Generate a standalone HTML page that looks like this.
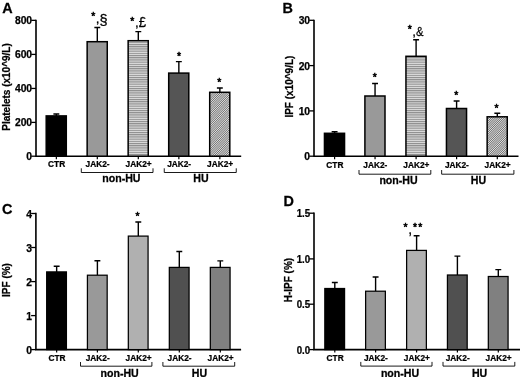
<!DOCTYPE html>
<html><head><meta charset="utf-8"><title>Figure</title>
<style>
html,body{margin:0;padding:0;background:#fff;}
body{width:520px;height:377px;overflow:hidden;}
svg{display:block;filter:blur(0.4px);}
svg text{font-family:"Liberation Sans", Arial, Helvetica, sans-serif;fill:#000;stroke:#000;stroke-width:0.25px;}
</style></head><body>
<svg width="520" height="377" viewBox="0 0 520 377">
<defs>
<pattern id="hl" width="4" height="2.2" patternUnits="userSpaceOnUse">
<rect width="4" height="2.2" fill="#e0e0e0"/>
<rect y="0" width="4" height="1.1" fill="#8a8a8a"/>
</pattern>
<pattern id="dg" width="1.3" height="4" patternUnits="userSpaceOnUse" patternTransform="rotate(45)">
<rect width="1.3" height="4" fill="#e2e2e2"/>
<rect x="0" y="0" width="0.65" height="4" fill="#6e6e6e"/>
</pattern>
</defs>
<rect width="520" height="377" fill="#fff"/>
<text transform="translate(2.20,13.20) scale(1.03,1)" font-size="14.0" font-weight="bold">A</text>
<text transform="translate(10.00,87.00) rotate(-90)" text-anchor="middle" font-size="10.0" font-weight="bold">Platelets (x10^9/L)</text>
<path d="M36.0,19.700000000000003 V156.2 H241.2" fill="none" stroke="#000" stroke-width="1.6"/>
<path d="M31.2,156.2 H36.0" stroke="#000" stroke-width="1.3"/>
<text transform="translate(32.10,160.20)" text-anchor="end" font-size="10.3" font-weight="bold">0</text>
<path d="M31.2,122.4 H36.0" stroke="#000" stroke-width="1.3"/>
<text transform="translate(32.10,126.40)" text-anchor="end" font-size="10.3" font-weight="bold">200</text>
<path d="M31.2,88.45 H36.0" stroke="#000" stroke-width="1.3"/>
<text transform="translate(32.10,92.45)" text-anchor="end" font-size="10.3" font-weight="bold">400</text>
<path d="M31.2,54.4 H36.0" stroke="#000" stroke-width="1.3"/>
<text transform="translate(32.10,58.40)" text-anchor="end" font-size="10.3" font-weight="bold">600</text>
<path d="M31.2,20.35 H36.0" stroke="#000" stroke-width="1.3"/>
<text transform="translate(32.10,24.35)" text-anchor="end" font-size="10.3" font-weight="bold">800</text>
<path d="M56.35,115.9 V114.0 M53.40,114.0 H59.30" stroke="#000" stroke-width="1.4" fill="none"/>
<rect x="46.20" y="115.9" width="20.1" height="40.30" fill="#000" stroke="#000" stroke-width="1.5"/>
<path d="M56.35,156.2 V159.2" stroke="#000" stroke-width="1.2"/>
<text transform="translate(56.65,167.40) scale(0.99,1)" text-anchor="middle" font-size="8.4" font-weight="bold">CTR</text>
<path d="M97.30,41.7 V27.5 M94.35,27.5 H100.25" stroke="#000" stroke-width="1.4" fill="none"/>
<rect x="87.15" y="41.7" width="20.1" height="114.50" fill="#999" stroke="#000" stroke-width="1.5"/>
<path d="M97.30,156.2 V159.2" stroke="#000" stroke-width="1.2"/>
<text transform="translate(97.60,167.40) scale(0.99,1)" text-anchor="middle" font-size="8.4" font-weight="bold">JAK2-</text>
<path d="M138.30,40.7 V31.6 M135.35,31.6 H141.25" stroke="#000" stroke-width="1.4" fill="none"/>
<rect x="128.15" y="40.7" width="20.1" height="115.50" fill="url(#hl)" stroke="#000" stroke-width="1.5"/>
<path d="M138.30,156.2 V159.2" stroke="#000" stroke-width="1.2"/>
<text transform="translate(138.60,167.40) scale(0.99,1)" text-anchor="middle" font-size="8.4" font-weight="bold">JAK2+</text>
<path d="M178.85,73.1 V61.6 M175.90,61.6 H181.80" stroke="#000" stroke-width="1.4" fill="none"/>
<rect x="168.70" y="73.1" width="20.1" height="83.10" fill="#555" stroke="#000" stroke-width="1.5"/>
<path d="M178.85,156.2 V159.2" stroke="#000" stroke-width="1.2"/>
<text transform="translate(179.15,167.40) scale(0.99,1)" text-anchor="middle" font-size="8.4" font-weight="bold">JAK2-</text>
<path d="M219.85,92.3 V88.0 M216.90,88.0 H222.80" stroke="#000" stroke-width="1.4" fill="none"/>
<rect x="209.70" y="92.3" width="20.1" height="63.90" fill="url(#dg)" stroke="#000" stroke-width="1.5"/>
<path d="M219.85,156.2 V159.2" stroke="#000" stroke-width="1.2"/>
<text transform="translate(220.15,167.40) scale(0.99,1)" text-anchor="middle" font-size="8.4" font-weight="bold">JAK2+</text>
<path d="M81.30,168.3 V172.5 H153.00 V168.3" fill="none" stroke="#000" stroke-width="0.9"/>
<text transform="translate(121.40,182.40) scale(1.03,1)" text-anchor="middle" font-size="10.3" font-weight="bold">non-HU</text>
<path d="M164.25,168.3 V172.5 H236.25 V168.3" fill="none" stroke="#000" stroke-width="0.9"/>
<text transform="translate(200.90,182.40) scale(1.03,1)" text-anchor="middle" font-size="10.3" font-weight="bold">HU</text>
<text transform="translate(93.15,20.30)" text-anchor="middle" font-size="10.4" style="stroke-width:0.55px">*</text>
<text transform="translate(95.78,23.10)" font-size="13.5">,</text>
<text transform="translate(99.53,24.80) scale(1.08,1.15)" font-size="13.5">§</text>
<text transform="translate(132.30,24.60)" text-anchor="middle" font-size="10.4" style="stroke-width:0.55px">*</text>
<text transform="translate(134.93,27.40)" font-size="13.5">,</text>
<text transform="translate(138.68,27.10) scale(0.98,1.1)" font-size="13.5">£</text>
<text transform="translate(179.10,59.50)" text-anchor="middle" font-size="10.4" style="stroke-width:0.55px">*</text>
<text transform="translate(219.20,85.70)" text-anchor="middle" font-size="10.4" style="stroke-width:0.55px">*</text>
<text transform="translate(282.60,12.60) scale(1.03,1)" font-size="14.0" font-weight="bold">B</text>
<text transform="translate(292.90,86.60) rotate(-90)" text-anchor="middle" font-size="10.0" font-weight="bold">IPF (x10^9/L)</text>
<path d="M314.0,19.650000000000002 V156.2 H518.5" fill="none" stroke="#000" stroke-width="1.6"/>
<path d="M309.2,156.2 H314.0" stroke="#000" stroke-width="1.3"/>
<text transform="translate(310.10,160.20)" text-anchor="end" font-size="10.3" font-weight="bold">0</text>
<path d="M309.2,110.9 H314.0" stroke="#000" stroke-width="1.3"/>
<text transform="translate(310.10,114.90)" text-anchor="end" font-size="10.3" font-weight="bold">10</text>
<path d="M309.2,65.6 H314.0" stroke="#000" stroke-width="1.3"/>
<text transform="translate(310.10,69.60)" text-anchor="end" font-size="10.3" font-weight="bold">20</text>
<path d="M309.2,20.3 H314.0" stroke="#000" stroke-width="1.3"/>
<text transform="translate(310.10,24.30)" text-anchor="end" font-size="10.3" font-weight="bold">30</text>
<path d="M334.60,133.3 V131.7 M331.65,131.7 H337.55" stroke="#000" stroke-width="1.4" fill="none"/>
<rect x="324.45" y="133.3" width="20.1" height="22.90" fill="#000" stroke="#000" stroke-width="1.5"/>
<path d="M334.60,156.2 V159.2" stroke="#000" stroke-width="1.2"/>
<text transform="translate(334.90,167.60) scale(0.99,1)" text-anchor="middle" font-size="8.4" font-weight="bold">CTR</text>
<path d="M375.05,96.0 V83.5 M372.10,83.5 H378.00" stroke="#000" stroke-width="1.4" fill="none"/>
<rect x="364.90" y="96.0" width="20.1" height="60.20" fill="#999" stroke="#000" stroke-width="1.5"/>
<path d="M375.05,156.2 V159.2" stroke="#000" stroke-width="1.2"/>
<text transform="translate(375.35,167.60) scale(0.99,1)" text-anchor="middle" font-size="8.4" font-weight="bold">JAK2-</text>
<path d="M416.10,56.3 V39.8 M413.15,39.8 H419.05" stroke="#000" stroke-width="1.4" fill="none"/>
<rect x="405.95" y="56.3" width="20.1" height="99.90" fill="url(#hl)" stroke="#000" stroke-width="1.5"/>
<path d="M416.10,156.2 V159.2" stroke="#000" stroke-width="1.2"/>
<text transform="translate(416.40,167.60) scale(0.99,1)" text-anchor="middle" font-size="8.4" font-weight="bold">JAK2+</text>
<path d="M456.60,108.5 V101.0 M453.65,101.0 H459.55" stroke="#000" stroke-width="1.4" fill="none"/>
<rect x="446.45" y="108.5" width="20.1" height="47.70" fill="#555" stroke="#000" stroke-width="1.5"/>
<path d="M456.60,156.2 V159.2" stroke="#000" stroke-width="1.2"/>
<text transform="translate(456.90,167.60) scale(0.99,1)" text-anchor="middle" font-size="8.4" font-weight="bold">JAK2-</text>
<path d="M497.30,116.8 V113.2 M494.35,113.2 H500.25" stroke="#000" stroke-width="1.4" fill="none"/>
<rect x="487.15" y="116.8" width="20.1" height="39.40" fill="url(#dg)" stroke="#000" stroke-width="1.5"/>
<path d="M497.30,156.2 V159.2" stroke="#000" stroke-width="1.2"/>
<text transform="translate(497.60,167.60) scale(0.99,1)" text-anchor="middle" font-size="8.4" font-weight="bold">JAK2+</text>
<path d="M359.00,170.0 V174.2 H430.80 V170.0" fill="none" stroke="#000" stroke-width="0.9"/>
<text transform="translate(398.50,184.30) scale(1.03,1)" text-anchor="middle" font-size="10.3" font-weight="bold">non-HU</text>
<path d="M441.65,170.0 V174.2 H513.90 V170.0" fill="none" stroke="#000" stroke-width="0.9"/>
<text transform="translate(478.40,184.30) scale(1.03,1)" text-anchor="middle" font-size="10.3" font-weight="bold">HU</text>
<text transform="translate(374.70,80.90)" text-anchor="middle" font-size="10.4" style="stroke-width:0.55px">*</text>
<text transform="translate(409.65,33.30)" text-anchor="middle" font-size="10.4" style="stroke-width:0.55px">*</text>
<text transform="translate(412.28,36.10)" font-size="13.5">,</text>
<text transform="translate(416.03,36.10) scale(0.84,1.0)" font-size="13.5">&amp;</text>
<text transform="translate(456.30,98.80)" text-anchor="middle" font-size="10.4" style="stroke-width:0.55px">*</text>
<text transform="translate(496.40,111.60)" text-anchor="middle" font-size="10.4" style="stroke-width:0.55px">*</text>
<text transform="translate(2.00,213.50) scale(1.03,1)" font-size="14.0" font-weight="bold">C</text>
<text transform="translate(10.20,280.00) rotate(-90)" text-anchor="middle" font-size="10.0" font-weight="bold">IPF (%)</text>
<path d="M35.9,212.85 V349.6 H241.1" fill="none" stroke="#000" stroke-width="1.6"/>
<path d="M31.099999999999998,349.6 H35.9" stroke="#000" stroke-width="1.3"/>
<text transform="translate(32.00,353.60)" text-anchor="end" font-size="10.3" font-weight="bold">0</text>
<path d="M31.099999999999998,315.6 H35.9" stroke="#000" stroke-width="1.3"/>
<text transform="translate(32.00,319.60)" text-anchor="end" font-size="10.3" font-weight="bold">1</text>
<path d="M31.099999999999998,281.6 H35.9" stroke="#000" stroke-width="1.3"/>
<text transform="translate(32.00,285.60)" text-anchor="end" font-size="10.3" font-weight="bold">2</text>
<path d="M31.099999999999998,247.5 H35.9" stroke="#000" stroke-width="1.3"/>
<text transform="translate(32.00,251.50)" text-anchor="end" font-size="10.3" font-weight="bold">3</text>
<path d="M31.099999999999998,213.5 H35.9" stroke="#000" stroke-width="1.3"/>
<text transform="translate(32.00,217.50)" text-anchor="end" font-size="10.3" font-weight="bold">4</text>
<path d="M56.65,271.9 V266.3 M53.70,266.3 H59.60" stroke="#000" stroke-width="1.4" fill="none"/>
<rect x="46.67" y="271.9" width="19.75" height="77.70" fill="#000" stroke="#000" stroke-width="1.25"/>
<path d="M56.65,349.6 V352.6" stroke="#000" stroke-width="1.2"/>
<text transform="translate(56.95,360.85) scale(0.99,1)" text-anchor="middle" font-size="8.4" font-weight="bold">CTR</text>
<path d="M97.40,275.2 V260.7 M94.45,260.7 H100.35" stroke="#000" stroke-width="1.4" fill="none"/>
<rect x="87.42" y="275.2" width="19.75" height="74.40" fill="#999" stroke="#000" stroke-width="1.25"/>
<path d="M97.40,349.6 V352.6" stroke="#000" stroke-width="1.2"/>
<text transform="translate(97.70,360.85) scale(0.99,1)" text-anchor="middle" font-size="8.4" font-weight="bold">JAK2-</text>
<path d="M138.30,236.1 V222.0 M135.35,222.0 H141.25" stroke="#000" stroke-width="1.4" fill="none"/>
<rect x="128.32" y="236.1" width="19.75" height="113.50" fill="#b0b0b0" stroke="#000" stroke-width="1.25"/>
<path d="M138.30,349.6 V352.6" stroke="#000" stroke-width="1.2"/>
<text transform="translate(138.60,360.85) scale(0.99,1)" text-anchor="middle" font-size="8.4" font-weight="bold">JAK2+</text>
<path d="M179.30,267.4 V251.5 M176.35,251.5 H182.25" stroke="#000" stroke-width="1.4" fill="none"/>
<rect x="169.32" y="267.4" width="19.75" height="82.20" fill="#505050" stroke="#000" stroke-width="1.25"/>
<path d="M179.30,349.6 V352.6" stroke="#000" stroke-width="1.2"/>
<text transform="translate(179.60,360.85) scale(0.99,1)" text-anchor="middle" font-size="8.4" font-weight="bold">JAK2-</text>
<path d="M220.30,267.4 V260.9 M217.35,260.9 H223.25" stroke="#000" stroke-width="1.4" fill="none"/>
<rect x="210.32" y="267.4" width="19.75" height="82.20" fill="#808080" stroke="#000" stroke-width="1.25"/>
<path d="M220.30,349.6 V352.6" stroke="#000" stroke-width="1.2"/>
<text transform="translate(220.60,360.85) scale(0.99,1)" text-anchor="middle" font-size="8.4" font-weight="bold">JAK2+</text>
<path d="M80.50,362.0 V366.2 H151.90 V362.0" fill="none" stroke="#000" stroke-width="0.9"/>
<text transform="translate(119.60,376.60) scale(1.03,1)" text-anchor="middle" font-size="10.3" font-weight="bold">non-HU</text>
<path d="M162.90,362.0 V366.2 H234.70 V362.0" fill="none" stroke="#000" stroke-width="0.9"/>
<text transform="translate(199.50,376.60) scale(1.03,1)" text-anchor="middle" font-size="10.3" font-weight="bold">HU</text>
<text transform="translate(137.60,220.00)" text-anchor="middle" font-size="10.4" style="stroke-width:0.55px">*</text>
<text transform="translate(283.40,205.90) scale(1.03,1)" font-size="14.0" font-weight="bold">D</text>
<text transform="translate(291.70,280.10) rotate(-90)" text-anchor="middle" font-size="10.0" font-weight="bold">H-IPF (%)</text>
<path d="M314.0,212.54999999999998 V349.6 H520" fill="none" stroke="#000" stroke-width="1.6"/>
<path d="M309.2,349.6 H314.0" stroke="#000" stroke-width="1.3"/>
<text transform="translate(310.10,353.60) scale(0.94,1)" text-anchor="end" font-size="10.3" font-weight="bold">0.0</text>
<path d="M309.2,304.2 H314.0" stroke="#000" stroke-width="1.3"/>
<text transform="translate(310.10,308.20) scale(0.94,1)" text-anchor="end" font-size="10.3" font-weight="bold">0.5</text>
<path d="M309.2,258.9 H314.0" stroke="#000" stroke-width="1.3"/>
<text transform="translate(310.10,262.90) scale(0.94,1)" text-anchor="end" font-size="10.3" font-weight="bold">1.0</text>
<path d="M309.2,213.2 H314.0" stroke="#000" stroke-width="1.3"/>
<text transform="translate(310.10,217.20) scale(0.94,1)" text-anchor="end" font-size="10.3" font-weight="bold">1.5</text>
<path d="M334.80,288.5 V282.5 M331.85,282.5 H337.75" stroke="#000" stroke-width="1.4" fill="none"/>
<rect x="324.82" y="288.5" width="19.75" height="61.10" fill="#000" stroke="#000" stroke-width="1.25"/>
<path d="M334.80,349.6 V352.6" stroke="#000" stroke-width="1.2"/>
<text transform="translate(335.10,360.85) scale(0.99,1)" text-anchor="middle" font-size="8.4" font-weight="bold">CTR</text>
<path d="M375.60,291.2 V277.0 M372.65,277.0 H378.55" stroke="#000" stroke-width="1.4" fill="none"/>
<rect x="365.62" y="291.2" width="19.75" height="58.40" fill="#999" stroke="#000" stroke-width="1.25"/>
<path d="M375.60,349.6 V352.6" stroke="#000" stroke-width="1.2"/>
<text transform="translate(375.90,360.85) scale(0.99,1)" text-anchor="middle" font-size="8.4" font-weight="bold">JAK2-</text>
<path d="M416.60,250.4 V235.7 M413.65,235.7 H419.55" stroke="#000" stroke-width="1.4" fill="none"/>
<rect x="406.62" y="250.4" width="19.75" height="99.20" fill="#b0b0b0" stroke="#000" stroke-width="1.25"/>
<path d="M416.60,349.6 V352.6" stroke="#000" stroke-width="1.2"/>
<text transform="translate(416.90,360.85) scale(0.99,1)" text-anchor="middle" font-size="8.4" font-weight="bold">JAK2+</text>
<path d="M457.40,275.0 V256.1 M454.45,256.1 H460.35" stroke="#000" stroke-width="1.4" fill="none"/>
<rect x="447.43" y="275.0" width="19.75" height="74.60" fill="#505050" stroke="#000" stroke-width="1.25"/>
<path d="M457.40,349.6 V352.6" stroke="#000" stroke-width="1.2"/>
<text transform="translate(457.70,360.85) scale(0.99,1)" text-anchor="middle" font-size="8.4" font-weight="bold">JAK2-</text>
<path d="M498.30,276.5 V269.6 M495.35,269.6 H501.25" stroke="#000" stroke-width="1.4" fill="none"/>
<rect x="488.32" y="276.5" width="19.75" height="73.10" fill="#808080" stroke="#000" stroke-width="1.25"/>
<path d="M498.30,349.6 V352.6" stroke="#000" stroke-width="1.2"/>
<text transform="translate(498.60,360.85) scale(0.99,1)" text-anchor="middle" font-size="8.4" font-weight="bold">JAK2+</text>
<path d="M360.80,361.90000000000003 V366.1 H432.00 V361.90000000000003" fill="none" stroke="#000" stroke-width="0.9"/>
<text transform="translate(400.00,376.50) scale(1.03,1)" text-anchor="middle" font-size="10.3" font-weight="bold">non-HU</text>
<path d="M443.00,361.90000000000003 V366.1 H514.80 V361.90000000000003" fill="none" stroke="#000" stroke-width="0.9"/>
<text transform="translate(479.60,376.50) scale(1.03,1)" text-anchor="middle" font-size="10.3" font-weight="bold">HU</text>
<text transform="translate(405.60,230.60)" text-anchor="middle" font-size="10.4" style="stroke-width:0.55px">*</text>
<text transform="translate(408.32,233.70)" font-size="14">,</text>
<text transform="translate(414.94,230.60)" text-anchor="middle" font-size="10.4" style="stroke-width:0.55px">*</text>
<text transform="translate(420.38,230.60)" text-anchor="middle" font-size="10.4" style="stroke-width:0.55px">*</text>
</svg>
</body></html>
